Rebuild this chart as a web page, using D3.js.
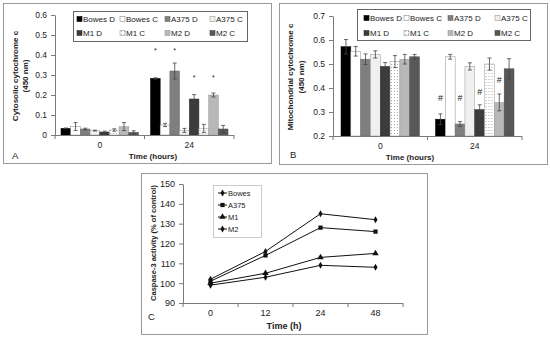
<!DOCTYPE html>
<html>
<head>
<meta charset="utf-8">
<script src="https://cdn.jsdelivr.net/npm/d3@7"></script>
<style>
  body { margin: 0; background: #fff; }
  svg { display: block; font-family: "Liberation Sans", Arial, sans-serif; }
  .axis path, .axis line { stroke: #7a7a7a; }
  .axis text { fill: #222; }
</style>
</head>
<body>
<script>
// categories
const times = ["0", "24"];
const series = ["Bowes D", "Bowes C", "A375 D", "A375 C", "M1 D", "M1 C", "M2 D", "M2 C"];

// panel A - cytosolic cytochrome c (rows = time 0, 24)
const cytoMean = [
  [0.033, 0.042, 0.030, 0.022, 0.015, 0.025, 0.042, 0.013],
  [0.283, 0.050, 0.320, 0.023, 0.180, 0.033, 0.200, 0.030]
];
const cytoErr = [
  [0.002, 0.020, 0.004, 0.002, 0.004, 0.006, 0.020, 0.008],
  [0.003, 0.008, 0.040, 0.010, 0.022, 0.020, 0.010, 0.018]
];
const cytoSig = [0.41, null, 0.41, null, 0.275, null, 0.275, null];
const cytoTicks = [0, 0.1, 0.2, 0.3, 0.4, 0.5, 0.6];

// panel B - mitochondrial cytochrome c
const mitoMean = [
  [0.572, 0.553, 0.520, 0.540, 0.490, 0.510, 0.520, 0.530],
  [0.270, 0.530, 0.250, 0.490, 0.310, 0.500, 0.340, 0.480]
];
const mitoErr = [
  [0.030, 0.020, 0.022, 0.015, 0.016, 0.025, 0.020, 0.010],
  [0.022, 0.010, 0.010, 0.015, 0.020, 0.025, 0.035, 0.042]
];
const mitoSig = [0.345, null, 0.345, null, 0.37, null, 0.42, null];
const mitoTicks = [0.2, 0.3, 0.4, 0.5, 0.6, 0.7];

// panel C - caspase-3 activity
const hours = ["0", "12", "24", "48"];
const cellLines = ["Bowes", "A375", "M1", "M2"];
const caspBowes = [102, 116, 135, 132];
const caspA375 = [101, 114, 128, 126];
const caspM1 = [100, 105, 113, 115];
const caspM2 = [99, 103, 109, 108];
const caspTicks = [90, 100, 110, 120, 130, 140, 150];

const fills = ["#000", "#fff", "#7f7f7f", "#f0f0f0", "#3c3c3c", "url(#dots)", "#b8b8b8", "#585858"];
const strokes = ["#000", "#8a8a8a", "#6a6a6a", "#9a9a9a", "#333", "#9a9a9a", "#999", "#4a4a4a"];

const svg = d3.select("body").append("svg")
    .attr("width", 550)
    .attr("height", 337);

svg.append("rect").attr("width", 550).attr("height", 337).attr("fill", "#fff");

// dotted fill for M1 C
let pat = svg.append("defs").append("pattern")
    .attr("id", "dots")
    .attr("width", 3).attr("height", 3)
    .attr("patternUnits", "userSpaceOnUse");
pat.append("rect").attr("width", 3).attr("height", 3).attr("fill", "#fff");
pat.append("rect").attr("x", 1).attr("y", 1).attr("width", 1).attr("height", 1).attr("fill", "#aaa");

function fmt(d) { return d === 0 ? "0" : d3.format(".1f")(d); }

function barPanel(cfg) {
  let g = svg.append("g");

  // frame
  g.append("rect")
      .attr("x", cfg.frame[0] + 0.5).attr("y", cfg.frame[1] + 0.5)
      .attr("width", cfg.frame[2]).attr("height", cfg.frame[3])
      .attr("fill", "none").attr("stroke", "#9a9a9a");

  let x0 = d3.scaleBand().domain(times).range(cfg.xRange);
  let bw = x0.bandwidth();
  let x1 = d3.scaleBand().domain(series).range([cfg.inset, bw - cfg.inset]);
  let y = d3.scaleLinear().domain(d3.extent(cfg.ticks)).range(cfg.yRange);

  // y axis
  g.append("g")
      .attr("class", "axis")
      .attr("transform", "translate(" + cfg.xRange[0] + ",0)")
      .call(d3.axisLeft(y).tickValues(cfg.ticks).tickFormat(fmt).tickSize(4).tickSizeOuter(0).tickPadding(4))
      .call(a => a.selectAll("text").attr("font-size", 8.5));

  // bars
  times.forEach((t, ti) => {
    let gg = g.append("g").attr("transform", "translate(" + x0(t) + ",0)");
    let rows = series.map((s, si) => ({s: s, i: si, v: cfg.mean[ti][si], e: cfg.err[ti][si]}));

    gg.selectAll("rect").data(rows).enter().append("rect")
        .attr("x", d => x1(d.s))
        .attr("y", d => y(d.v))
        .attr("width", x1.bandwidth())
        .attr("height", d => y(cfg.ticks[0]) - y(d.v))
        .attr("fill", d => fills[d.i])
        .attr("stroke", d => strokes[d.i])
        .attr("stroke-width", 0.5);

    let eb = gg.selectAll(".err").data(rows).enter().append("g")
        .attr("class", "err")
        .attr("stroke", "#444").attr("stroke-width", 0.8);
    eb.append("line")
        .attr("x1", d => x1(d.s) + x1.bandwidth() / 2).attr("x2", d => x1(d.s) + x1.bandwidth() / 2)
        .attr("y1", d => y(d.v - d.e)).attr("y2", d => y(d.v + d.e));
    eb.append("line")
        .attr("x1", d => x1(d.s) + x1.bandwidth() / 2 - 2).attr("x2", d => x1(d.s) + x1.bandwidth() / 2 + 2)
        .attr("y1", d => y(d.v + d.e)).attr("y2", d => y(d.v + d.e));
    eb.append("line")
        .attr("x1", d => x1(d.s) + x1.bandwidth() / 2 - 2).attr("x2", d => x1(d.s) + x1.bandwidth() / 2 + 2)
        .attr("y1", d => y(d.v - d.e)).attr("y2", d => y(d.v - d.e));

    // significance marks at 24 h
    if (t === "24") {
      gg.selectAll(".sig").data(rows.filter(d => cfg.sig[d.i] !== null)).enter().append("text")
          .attr("x", d => x1(d.s) + x1.bandwidth() / 2)
          .attr("y", d => y(cfg.sig[d.i]))
          .attr("text-anchor", "middle")
          .attr("font-size", cfg.sigSize)
          .attr("fill", "#222")
          .text(cfg.sigChar);
    }
  });

  // x axis: baseline, boundary ticks, labels
  let base = y(cfg.ticks[0]);
  let xa = g.append("g").attr("class", "axis");
  xa.append("line")
      .attr("x1", cfg.xRange[0]).attr("x2", cfg.xRange[1])
      .attr("y1", base + 0.5).attr("y2", base + 0.5);
  let bounds = [cfg.xRange[0]].concat(times.map(t => x0(t) + bw));
  xa.selectAll(".tk").data(bounds).enter().append("line")
      .attr("x1", d => d).attr("x2", d => d)
      .attr("y1", base).attr("y2", base + 4);
  xa.selectAll(".lbl").data(times).enter().append("text")
      .attr("x", d => x0(d) + bw / 2)
      .attr("y", base + 13)
      .attr("text-anchor", "middle")
      .attr("font-size", 8.5)
      .text(d => d);

  g.append("text")
      .attr("x", cfg.xTitle[0]).attr("y", cfg.xTitle[1])
      .attr("text-anchor", "middle")
      .attr("font-size", 8).attr("font-weight", "bold").attr("fill", "#222")
      .text("Time (hours)");

  // y title, two lines
  cfg.yTitle.forEach((s, i) => {
    g.append("text")
        .attr("transform", "translate(" + cfg.yTitleX[i] + "," + cfg.yTitleY + ") rotate(-90)")
        .attr("text-anchor", "middle")
        .attr("dy", "0.35em")
        .attr("font-size", 8).attr("font-weight", "bold").attr("fill", "#222")
        .text(s);
  });

  g.append("text")
      .attr("x", cfg.letter[0]).attr("y", cfg.letter[1])
      .attr("font-size", 9.5).attr("fill", "#222")
      .text(cfg.letter[2]);

  // legend
  let lb = cfg.legendBox;
  g.append("rect")
      .attr("x", lb[0] + 0.5).attr("y", lb[1] + 0.5).attr("width", lb[2]).attr("height", lb[3])
      .attr("fill", "#fff").attr("stroke", "#666");
  let li = g.selectAll(".leg").data(series).enter().append("g")
      .attr("transform", (d, i) => "translate(" + cfg.legendCols[i % 4] + "," + cfg.legendRows[Math.floor(i / 4)] + ")");
  li.append("rect")
      .attr("x", 0).attr("y", -2.5).attr("width", 5).attr("height", 5)
      .attr("fill", (d, i) => fills[i]).attr("stroke", (d, i) => strokes[i]).attr("stroke-width", 0.6);
  li.append("text")
      .attr("x", 6).attr("dy", "0.35em")
      .attr("font-size", 8).attr("fill", "#222")
      .text(d => d);
}

barPanel({
  frame: [3, 3, 268, 160],
  xRange: [55, 234], inset: 6,
  yRange: [135, 15], ticks: cytoTicks,
  mean: cytoMean, err: cytoErr,
  sig: cytoSig, sigChar: "*", sigSize: 7,
  xTitle: [153, 159],
  yTitle: ["Cytosolic cytochrome c", "(450 nm)"], yTitleX: [15, 25], yTitleY: 76,
  letter: [12, 159, "A"],
  legendBox: [73, 11, 174, 30],
  legendCols: [77, 120, 165, 210], legendRows: [19, 33]
});

barPanel({
  frame: [279, 3, 268, 161],
  xRange: [333, 522], inset: 8,
  yRange: [136, 16], ticks: mitoTicks,
  mean: mitoMean, err: mitoErr,
  sig: mitoSig, sigChar: "#", sigSize: 9,
  xTitle: [410, 160],
  yTitle: ["Mitochondrial cytochrome c", "(450 nm)"], yTitleX: [290, 301], yTitleY: 77,
  letter: [290, 158, "B"],
  legendBox: [357, 9, 173, 31],
  legendCols: [364, 404, 448, 495], legendRows: [18, 33]
});

// ---- panel C: caspase-3 line chart ----
let gc = svg.append("g");
gc.append("rect")
    .attr("x", 141.5).attr("y", 173.5).attr("width", 286).attr("height", 161)
    .attr("fill", "none").attr("stroke", "#9a9a9a");

let xc = d3.scaleBand().domain(hours).range([183, 403]);
let yc = d3.scaleLinear().domain([90, 150]).range([303, 184]);

gc.append("g")
    .attr("class", "axis")
    .attr("transform", "translate(183,0)")
    .call(d3.axisLeft(yc).tickValues(caspTicks).tickSize(4).tickSizeOuter(0).tickPadding(4))
    .call(a => a.selectAll("text").attr("font-size", 9));

let xaC = gc.append("g").attr("class", "axis");
xaC.append("line").attr("x1", 183).attr("x2", 403).attr("y1", 303.5).attr("y2", 303.5);
xaC.selectAll(".tk").data([183].concat(hours.map(h => xc(h) + xc.bandwidth()))).enter().append("line")
    .attr("x1", d => d).attr("x2", d => d).attr("y1", 303).attr("y2", 307);
xaC.selectAll(".lbl").data(hours).enter().append("text")
    .attr("x", d => xc(d) + xc.bandwidth() / 2)
    .attr("y", 316)
    .attr("text-anchor", "middle")
    .attr("font-size", 9)
    .text(d => d);

gc.append("text")
    .attr("x", 284).attr("y", 329)
    .attr("text-anchor", "middle")
    .attr("font-size", 9).attr("font-weight", "bold").attr("fill", "#222")
    .text("Time (h)");

gc.append("text")
    .attr("transform", "translate(153,243) rotate(-90)")
    .attr("text-anchor", "middle").attr("dy", "0.35em")
    .attr("font-size", 7.5).attr("font-weight", "bold").attr("fill", "#222")
    .text("Caspase-3 activity (% of control)");

gc.append("text")
    .attr("x", 148).attr("y", 320)
    .attr("font-size", 9.5).attr("fill", "#222")
    .text("C");

let caspData = [caspBowes, caspA375, caspM1, caspM2];
let shapes = [d3.symbolDiamond, d3.symbolSquare, d3.symbolTriangle, d3.symbolDiamond];
let sizes = [14, 18, 18, 14];

let line = d3.line()
    .x((d, i) => xc(hours[i]) + xc.bandwidth() / 2)
    .y(d => yc(d));

caspData.forEach((vals, k) => {
  gc.append("path")
      .attr("d", line(vals))
      .attr("fill", "none").attr("stroke", "#111").attr("stroke-width", 1);
  gc.selectAll(".m" + k).data(vals).enter().append("path")
      .attr("transform", (d, i) => "translate(" + (xc(hours[i]) + xc.bandwidth() / 2) + "," + yc(d) + ")")
      .attr("d", d3.symbol().type(shapes[k]).size(sizes[k]))
      .attr("fill", "#111");
});

// legend C
gc.append("rect")
    .attr("x", 213.5).attr("y", 185.5).attr("width", 48).attr("height", 52)
    .attr("fill", "#fff").attr("stroke", "#aaa").attr("stroke-width", 0.6);
let lc = gc.selectAll(".lc").data(cellLines).enter().append("g")
    .attr("transform", (d, i) => "translate(218," + (193 + i * 12) + ")");
lc.append("line").attr("x1", 0).attr("x2", 9).attr("stroke", "#111");
lc.append("path")
    .attr("transform", "translate(4.5,0)")
    .attr("d", (d, i) => d3.symbol().type(shapes[i]).size(sizes[i])())
    .attr("fill", "#111");
lc.append("text")
    .attr("x", 10).attr("dy", "0.35em")
    .attr("font-size", 7.5).attr("fill", "#222")
    .text(d => d);
</script>
</body>
</html>
